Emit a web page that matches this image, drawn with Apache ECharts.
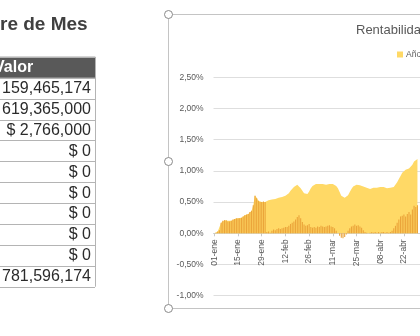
<!DOCTYPE html>
<html><head><meta charset="utf-8">
<script src="https://cdn.jsdelivr.net/npm/echarts@6/dist/echarts.min.js"></script>
<style>html,body{margin:0;padding:0;background:#fff}#c{width:420px;height:336px}</style>
</head><body><div id="c"></div>
<script>
// ---- data ----
const pageTitle = 're de Mes';
const tableHeader = 'Valor';
const tableValues = ['159,465,174','619,365,000','$ 2,766,000','$ 0','$ 0','$ 0','$ 0','$ 0','$ 0','781,596,174'];
const chartTitle = 'Rentabilidad';
const monthNames = ['ene','feb','mar','abr','may'];
const monthLengths = [31,29,31,30,1];
const yearSeriesName = 'Año';
const monthSeriesName = 'Mes';
const yMin = -1.0, yMax = 2.5, yStep = 0.5;
// cumulative (year) return, % per day from 01-ene
const yearReturn = [
0.00,0.01,0.03,0.05,0.17,0.20,0.21,0.21,0.20,0.19,0.20,0.22,0.23,0.24,0.24,0.25,0.25,0.27,0.29,0.30,
0.31,0.34,0.36,0.45,0.61,0.57,0.52,0.50,0.50,0.51,0.50,
0.52,0.53,0.52,0.54,0.55,0.55,0.56,0.57,0.57,0.58,0.59,0.60,0.61,0.64,0.68,0.71,0.74,0.76,0.78,
0.76,0.72,0.68,0.64,0.62,0.63,0.67,0.72,0.76,
0.78,0.79,0.78,0.79,0.78,0.79,0.79,0.78,0.79,0.79,0.80,0.79,0.78,0.76,0.72,0.66,0.60,0.57,0.57,0.58,
0.61,0.66,0.71,0.75,0.77,0.78,0.76,0.77,0.76,0.75,0.74,
0.73,0.74,0.71,0.69,0.73,0.74,0.73,0.74,0.74,0.73,0.74,0.74,0.72,0.73,0.73,0.72,0.74,0.77,0.82,0.87,
0.92,0.97,1.00,1.02,1.03,1.04,1.06,1.10,1.15,1.18,
1.19];
// month-to-date return, %
const monthReturn = [
0.00,0.01,0.03,0.05,0.17,0.20,0.21,0.21,0.19,0.19,0.20,0.22,0.23,0.24,0.24,0.24,0.25,0.27,0.29,0.30,
0.31,0.34,0.36,0.45,0.60,0.56,0.52,0.50,0.50,0.51,0.50,
0.02,0.03,0.01,0.04,0.06,0.05,0.07,0.08,0.07,0.08,0.09,0.10,0.10,0.12,0.15,0.17,0.19,0.22,0.26,
0.29,0.24,0.18,0.14,0.12,0.13,0.15,0.10,0.09,
0.10,0.09,0.11,0.10,0.12,0.11,0.10,0.11,0.12,0.13,0.11,0.10,0.08,0.04,0.00,-0.04,-0.07,-0.08,-0.06,-0.02,
0.04,0.08,0.11,0.12,0.14,0.12,0.13,0.11,0.09,0.05,0.02,
0.01,0.00,0.01,0.02,0.01,0.02,0.01,0.02,0.01,0.02,0.02,0.01,0.02,0.01,0.02,0.04,0.08,0.12,0.17,0.22,
0.27,0.28,0.30,0.27,0.31,0.34,0.30,0.38,0.44,0.42,
0.45];

// ---- build categories ----
const categories = [];
monthNames.forEach((m, i) => {
  for (let d = 1; d <= monthLengths[i]; d++) categories.push((d < 10 ? '0' : '') + d + '-' + m);
});

// ---- layout / graphics ----
const FONT = "'Liberation Sans', Arial, sans-serif";
const rowTop = 56.8, rowH = 20.9, tblLeft = -1, tblRight = 95;
const graphics = [];
graphics.push({type:'text', left:0, top:15, style:{text:pageTitle, font:'bold 19px ' + FONT, fill:'#404040'}});
graphics.push({type:'rect', shape:{x:tblLeft, y:rowTop, width:tblRight - tblLeft, height:rowH}, style:{fill:'#595959'}});
const nRows = tableValues.length + 1;
for (let r = 0; r <= nRows; r++) {
  const y = Math.round(rowTop + r * rowH) + 0.5;
  graphics.push({type:'line', shape:{x1:tblLeft, y1:y, x2:tblRight, y2:y}, style:{stroke:'#b4b4b4', lineWidth:1}});
}
graphics.push({type:'line', shape:{x1:tblRight + 0.5, y1:rowTop, x2:tblRight + 0.5, y2:rowTop + nRows * rowH}, style:{stroke:'#b4b4b4', lineWidth:1}});
graphics.push({type:'text', x:-6, y:rowTop + rowH / 2 + 0.5, style:{text:tableHeader, font:'bold 16px ' + FONT, fill:'#ffffff', verticalAlign:'middle', align:'left'}});
tableValues.forEach((v, i) => {
  graphics.push({type:'text', x:91, y:rowTop + (i + 1.5) * rowH + 0.5, style:{text:v, font:'16px ' + FONT, fill:'#2b2b2b', verticalAlign:'middle', align:'right'}});
});
// chart object frame + handles
const fx = 168.5, fTop = 14.5, fBot = 308.5;
graphics.push({type:'polyline', shape:{points:[[430, fTop],[fx, fTop],[fx, fBot],[430, fBot]]}, style:{stroke:'#c4c4c4', lineWidth:1, fill:null}});
[fTop, (fTop + fBot) / 2, fBot].forEach(cy => {
  graphics.push({type:'circle', shape:{cx:fx, cy:cy, r:4}, style:{fill:'#ffffff', stroke:'#8a8a8a', lineWidth:1}, z:10});
});

const gridTop = 77.3, gridBottom = 40.3, plotH = 336 - gridTop - gridBottom;
const zeroOffset = plotH * (0 - yMin) / (yMax - yMin);

const chart = echarts.init(document.getElementById('c'), null, {renderer:'canvas'});
chart.setOption({
  animation:false,
  backgroundColor:'#ffffff',
  textStyle:{fontFamily:FONT},
  title:{text:chartTitle, left:356, top:24, padding:0, textStyle:{fontSize:13, fontWeight:'normal', color:'#595959', fontFamily:FONT}},
  legend:{data:[yearSeriesName], left:397, top:50, padding:0, icon:'rect', itemWidth:6, itemHeight:6, itemGap:4,
    textStyle:{fontSize:8.5, color:'#595959', padding:[0,0,0,-2]}},
  grid:{left:213.5, right:0, top:gridTop, bottom:gridBottom, containLabel:false, outerBoundsMode:'none'},
  xAxis:{type:'category', data:categories, boundaryGap:true, offset:-zeroOffset,
    axisLine:{show:true, onZero:false, lineStyle:{color:'#d0d0d0', width:1}},
    axisTick:{show:true, interval:13, alignWithLabel:true, length:3, lineStyle:{color:'#c8c8c8'}},
    axisLabel:{interval:13, rotate:90, fontSize:8.5, color:'#595959', margin:6, fontFamily:FONT},
    splitLine:{show:false}},
  yAxis:{type:'value', min:yMin, max:yMax, interval:yStep,
    axisLine:{show:false}, axisTick:{show:false},
    axisLabel:{fontSize:8.5, color:'#595959', margin:10, fontFamily:FONT,
      formatter:v => v.toFixed(2).replace('.', ',') + '%'},
    splitLine:{show:true, lineStyle:{color:'#dedede', width:1}}},
  series:[
    {type:'line', name:yearSeriesName, data:yearReturn, showSymbol:false, symbol:'none',
      lineStyle:{width:0}, areaStyle:{color:'#FFD966', opacity:1}, itemStyle:{color:'#FFD966'}, z:1},
    {type:'bar', name:monthSeriesName, data:monthReturn, barCategoryGap:'35%',
      itemStyle:{color:'#EBA43A'}, z:2}
  ],
  graphic:graphics
});
</script></body></html>
